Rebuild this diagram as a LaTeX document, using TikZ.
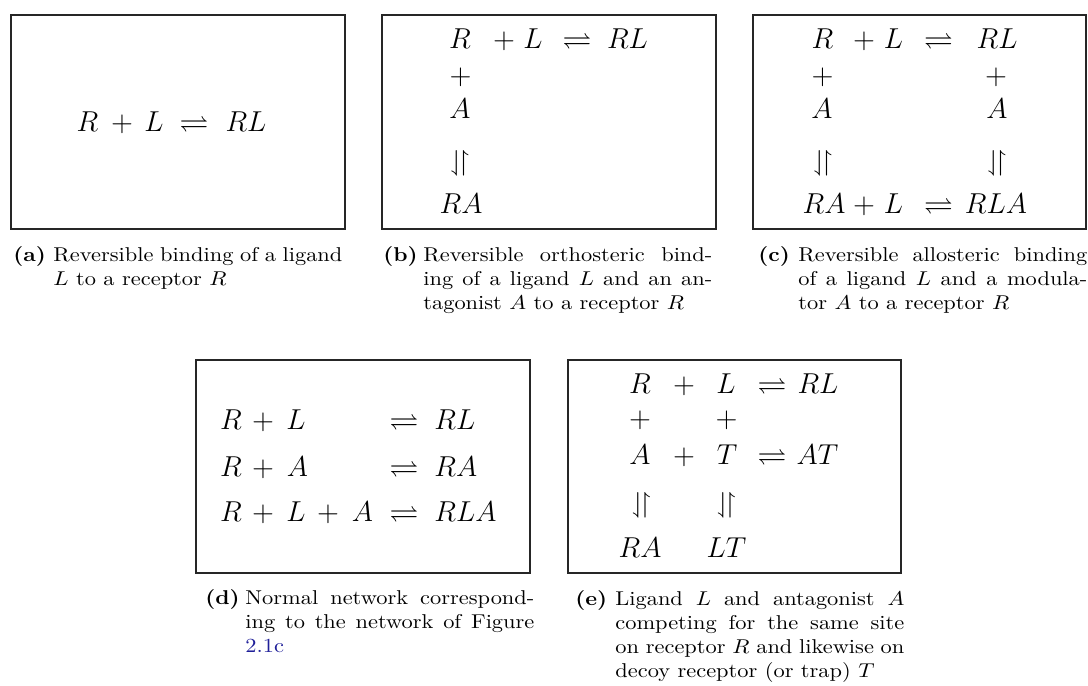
\documentclass[tikz,border=0pt]{standalone}
\usepackage{amsmath,amssymb,graphicx}
\definecolor{linkblue}{rgb}{0.12,0.12,0.6}
\newcommand{\vharp}{\downharpoonleft\!\upharpoonright}
\tikzset{
  frame/.style={draw=black!85, line width=0.55pt},
  mth/.style={inner sep=0pt, anchor=base, font=\Large},
  mthw/.style={mth, anchor=base west},
  capn/.style={inner sep=0pt, anchor=base west, font=\normalsize},
}
\newcommand{\capbox}[2]{\scalebox{1.12}[1]{\makebox[17.86pt][l]{\textbf{(#1)}}\parbox[t]{129pt}{#2}}}
\begin{document}
\begin{tikzpicture}[x=0.5pt,y=-0.5pt]
\useasboundingbox (0,0) rectangle (1088,686);
% frames
\draw[frame] (11,15) rectangle (345,229);
\draw[frame] (382,15) rectangle (716,229);
\draw[frame] (753,15) rectangle (1086,229);
\draw[frame] (196,360) rectangle (530,573);
\draw[frame] (568,360) rectangle (901,573);
% (a)
\node[mth] (aR) at (87.5,131) {$R$};
\node[mth] (aP) at (122,131) {$+$};
\node[mth] (aL) at (154,131) {$L$};
\node[mth] (aE) at (194,131) {$\rightleftharpoons$};
\node[mth] (aRL) at (246,131) {$RL$};
% (b)
\node[mth] (bR) at (460,48) {$R$};
\node[mth] (bP) at (504,48) {$+$};
\node[mth] (bL) at (533,48) {$L$};
\node[mth] (bE) at (577,48) {$\rightleftharpoons$};
\node[mth] (bRL) at (627.5,48) {$RL$};
\node[mth] (bP2) at (460.5,84) {$+$};
\node[mth] (bA) at (460,118) {$A$};
\node[mth] (bV) at (460,170) {$\vharp$};
\node[mth] (bRA) at (461,213) {$RA$};
% (c)
\node[mth] (cR) at (822.5,48) {$R$};
\node[mth] (cP) at (864,48) {$+$};
\node[mth] (cL) at (893.5,48) {$L$};
\node[mth] (cE) at (938.5,48) {$\rightleftharpoons$};
\node[mth] (cRL) at (997,48) {$RL$};
\node[mth] (cP2) at (822.5,84) {$+$};
\node[mth] (cP3) at (996,84) {$+$};
\node[mth] (cA) at (822,118) {$A$};
\node[mth] (cA2) at (997,118) {$A$};
\node[mth] (cV) at (823,170) {$\vharp$};
\node[mth] (cV2) at (997,170) {$\vharp$};
\node[mth] (cRA) at (824,213) {$RA$};
\node[mth] (cP4) at (864,213) {$+$};
\node[mth] (cL2) at (893.5,213) {$L$};
\node[mth] (cE2) at (938.5,213) {$\rightleftharpoons$};
\node[mth] (cRLA) at (996,213) {$RLA$};
% (d)
\node[mth] (dR1) at (231,429) {$R$};
\node[mth] (dP1) at (263,429) {$+$};
\node[mth] (dL1) at (296,429) {$L$};
\node[mth] (dE1) at (404,429) {$\rightleftharpoons$};
\node[mthw] (dRL) at (434,429) {$RL$};
\node[mth] (dR2) at (231,476) {$R$};
\node[mth] (dP2) at (263,476) {$+$};
\node[mth] (dA2) at (297.5,476) {$A$};
\node[mth] (dE2) at (404,476) {$\rightleftharpoons$};
\node[mthw] (dRA) at (434,476) {$RA$};
\node[mth] (dR3) at (231,521) {$R$};
\node[mth] (dP3) at (263,521) {$+$};
\node[mth] (dL3) at (296,521) {$L$};
\node[mth] (dP4) at (328,521) {$+$};
\node[mth] (dA3) at (362.5,521) {$A$};
\node[mth] (dE3) at (404,521) {$\rightleftharpoons$};
\node[mthw] (dRLA) at (434,521) {$RLA$};
% (e)
\node[mth] (eR) at (640,393) {$R$};
\node[mth] (eP1) at (684,393) {$+$};
\node[mth] (eL) at (726,393) {$L$};
\node[mth] (eE1) at (772,393) {$\rightleftharpoons$};
\node[mth] (eRL) at (818,393) {$RL$};
\node[mth] (eP2) at (640,427) {$+$};
\node[mth] (eP3) at (726.5,427) {$+$};
\node[mth] (eA) at (640,464) {$A$};
\node[mth] (eP4) at (684,464) {$+$};
\node[mth] (eT) at (727,464) {$T$};
\node[mth] (eE2) at (772,464) {$\rightleftharpoons$};
\node[mth] (eAT) at (817.5,464) {$AT$};
\node[mth] (eV1) at (641.5,512) {$\vharp$};
\node[mth] (eV2) at (726.5,512) {$\vharp$};
\node[mth] (eRA) at (640,557) {$RA$};
\node[mth] (eLT) at (726.5,557) {$LT$};
% captions
\node[capn] (capa) at (13,261) {\capbox{a}{Reversible binding of a ligand\linebreak $L$ to a receptor $R$}};
\node[capn] (capb) at (383,261) {\capbox{b}{Reversible orthosteric bind-\linebreak ing of a ligand $L$ and an an-\linebreak tagonist $A$ to a receptor $R$}};
\node[capn] (capc) at (758,261) {\capbox{c}{Reversible allosteric binding\linebreak of a ligand $L$ and a modula-\linebreak tor $A$ to a receptor $R$}};
\node[capn] (capd) at (205,604) {\capbox{d}{Normal network correspond-\linebreak ing to the network of Figure\linebreak {\color{linkblue}2.1c}}};
\node[capn] (cape) at (575,605) {\capbox{e}{Ligand $L$ and antagonist $A$\linebreak competing for the same site\linebreak on receptor $R$ and likewise on\linebreak decoy receptor (or trap) $T$}};
\end{tikzpicture}
\end{document}
